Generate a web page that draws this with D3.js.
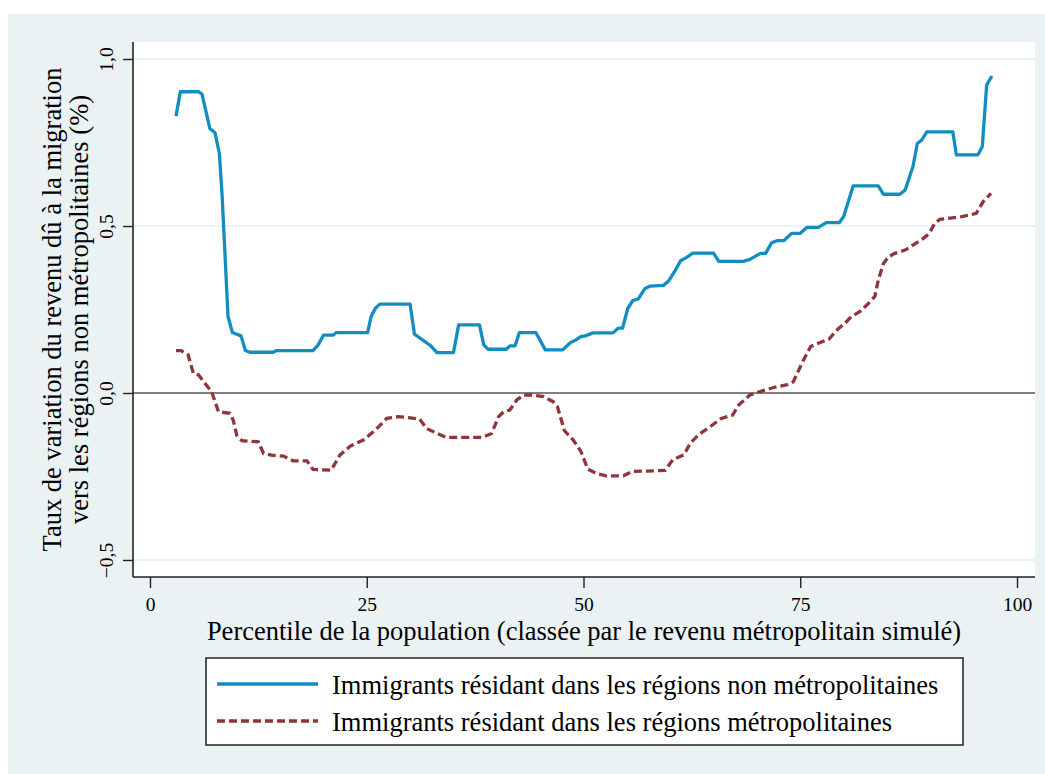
<!DOCTYPE html>
<html>
<head>
<meta charset="utf-8">
<script src="https://cdn.jsdelivr.net/npm/d3@7"></script>
<style>
  body { margin: 0; background: #ffffff; }
  svg text { font-family: "Liberation Serif", "Times New Roman", serif; fill: #000; }
</style>
</head>
<body>
<div id="chart"></div>
<script>
// percentiles and values
var pctNonMetro = [3.0, 3.5, 5.6, 6.0, 6.9, 7.5, 8.0, 8.3, 9.0, 9.5, 10.5, 11.0, 11.5, 14.2, 14.6, 18.8, 19.4, 20.0, 21.1, 21.5,
  25.1, 25.5, 26.0, 26.5, 30.0, 30.5, 32.3, 33.1, 35.0, 35.6, 38.0, 38.5, 39.0, 41.1, 41.5, 42.1, 42.6, 44.5, 45.6, 47.6,
  48.5, 49.0, 49.7, 50.2, 51.1, 53.4, 54.0, 54.5, 55.1, 55.7, 56.3, 57.1, 57.7, 59.2, 59.8, 60.6, 61.2, 61.9, 62.6, 65.0,
  65.6, 68.4, 69.2, 70.4, 71.0, 71.7, 72.3, 73.1, 74.0, 75.0, 75.8, 77.1, 78.0, 79.5, 80.0, 81.1, 84.0, 84.6, 86.5, 87.1,
  88.0, 88.5, 89.0, 89.6, 92.6, 93.0, 95.5, 96.0, 96.5, 97.1];
var valNonMetro = [0.829, 0.902, 0.902, 0.895, 0.792, 0.779, 0.717, 0.60, 0.229, 0.181, 0.171, 0.127, 0.122, 0.122, 0.127, 0.127, 0.144, 0.173, 0.173, 0.181,
  0.181, 0.229, 0.254, 0.266, 0.266, 0.176, 0.143, 0.121, 0.121, 0.204, 0.204, 0.144, 0.131, 0.131, 0.141, 0.141, 0.181, 0.181, 0.129, 0.129,
  0.151, 0.157, 0.169, 0.171, 0.180, 0.180, 0.194, 0.194, 0.253, 0.277, 0.281, 0.313, 0.320, 0.322, 0.335, 0.368, 0.396, 0.406, 0.419, 0.419,
  0.394, 0.394, 0.400, 0.418, 0.418, 0.450, 0.456, 0.456, 0.478, 0.478, 0.496, 0.496, 0.510, 0.510, 0.528, 0.620, 0.620, 0.595, 0.595, 0.608,
  0.678, 0.747, 0.757, 0.782, 0.782, 0.713, 0.713, 0.738, 0.922, 0.949];

var pctMetro = [3.0, 3.6, 4.4, 5.0, 5.6, 6.2, 7.1, 7.9, 9.2, 9.6, 10.0, 10.6, 12.5, 13.1, 14.0, 15.4, 16.5, 18.1, 18.8, 20.9,
  21.9, 23.1, 24.6, 26.0, 27.3, 28.6, 29.6, 31.1, 31.9, 33.1, 34.2, 38.3, 39.4, 40.2, 40.8, 41.5, 42.3, 43.1, 44.0, 45.4,
  46.5, 47.0, 47.8, 48.8, 49.7, 50.5, 51.5, 52.6, 54.6, 55.6, 59.4, 60.3, 61.6, 62.3, 63.3, 64.6, 65.9, 67.2, 67.9, 69.2,
  70.7, 72.3, 73.4, 74.2, 75.4, 76.2, 77.3, 78.3, 79.3, 80.2, 80.9, 81.9, 82.9, 83.6, 84.0, 84.6, 85.2, 85.9, 87.1, 88.0,
  89.2, 89.9, 90.5, 91.1, 93.6, 94.6, 95.3, 96.1, 97.0];
var valMetro = [0.127, 0.127, 0.114, 0.059, 0.054, 0.034, 0.004, -0.056, -0.061, -0.081, -0.126, -0.143, -0.146, -0.181, -0.186, -0.189, -0.203, -0.203, -0.229, -0.231,
  -0.186, -0.159, -0.141, -0.111, -0.076, -0.071, -0.073, -0.078, -0.106, -0.121, -0.133, -0.133, -0.121, -0.071, -0.056, -0.051, -0.021, -0.006, -0.006, -0.011,
  -0.026, -0.041, -0.113, -0.140, -0.175, -0.228, -0.241, -0.248, -0.248, -0.235, -0.232, -0.200, -0.185, -0.151, -0.124, -0.101, -0.076, -0.066, -0.036, -0.006,
  0.007, 0.019, 0.024, 0.034, 0.100, 0.139, 0.151, 0.161, 0.190, 0.210, 0.229, 0.244, 0.269, 0.289, 0.338, 0.388, 0.408, 0.418, 0.428, 0.443,
  0.463, 0.478, 0.508, 0.520, 0.528, 0.533, 0.538, 0.573, 0.598];

var xTicks = [0, 25, 50, 75, 100];
var yTicks = [-0.5, 0, 0.5, 1.0];
var yGrid = [-0.5, 0.5, 1.0];
var seriesNames = ["Immigrants résidant dans les régions non métropolitaines",
  "Immigrants résidant dans les régions métropolitaines"];

// styling
var svgWidth = 1045;
var svgHeight = 774;
var plot = { left: 133, right: 1035, top: 42, bottom: 577 };
var bgColor = "#eaf2f3";
var blue = "#128dc0";
var red = "#90353b";
var serif = "'Liberation Serif', 'Times New Roman', serif";

var svg = d3.select("#chart")
  .append("svg")
  .attr("width", svgWidth)
  .attr("height", svgHeight);

// outer background
svg.append("rect")
  .attr("x", 8).attr("y", 14)
  .attr("width", svgWidth - 8).attr("height", svgHeight - 14)
  .attr("fill", bgColor);

// plot region
svg.append("rect")
  .attr("x", plot.left).attr("y", plot.top)
  .attr("width", plot.right - plot.left).attr("height", plot.bottom - plot.top)
  .attr("fill", "#ffffff");

var xScale = d3.scaleLinear().domain([0, 100]).range([150, 1017]);
var yScale = d3.scaleLinear().domain([0, 1]).range([393, 59]);

// grid lines
svg.selectAll(".grid")
  .data(yGrid)
  .enter()
  .append("line")
  .attr("x1", plot.left).attr("x2", plot.right)
  .attr("y1", d => yScale(d)).attr("y2", d => yScale(d))
  .attr("stroke", bgColor)
  .attr("stroke-width", 2);

// zero line
svg.append("line")
  .attr("x1", plot.left).attr("x2", plot.right)
  .attr("y1", yScale(0)).attr("y2", yScale(0))
  .attr("stroke", "#000")
  .attr("stroke-width", 1.2);

// axes
var fmt = d3.format(".1f");
var yAxis = d3.axisLeft(yScale)
  .tickValues(yTicks)
  .tickSize(10)
  .tickPadding(0)
  .tickFormat(d => fmt(d).replace(".", ","));
var xAxis = d3.axisBottom(xScale)
  .tickValues(xTicks)
  .tickSize(11)
  .tickPadding(9)
  .tickFormat(d3.format("d"));

var yG = svg.append("g")
  .attr("transform", `translate(${plot.left},0)`)
  .call(yAxis);
yG.select(".domain").attr("d", `M0,${plot.top}V${plot.bottom}`);

var xG = svg.append("g")
  .attr("transform", `translate(0,${plot.bottom})`)
  .call(xAxis);
xG.select(".domain").attr("d", `M${plot.left},0H${plot.right}`);

svg.selectAll(".domain").attr("stroke", "#222").attr("stroke-width", 1.6);
svg.selectAll(".tick line").attr("stroke", "#222").attr("stroke-width", 1.4);
yG.attr("font-family", serif).attr("font-size", 19.5);
xG.attr("font-family", serif).attr("font-size", 19.5);

xG.selectAll(".tick text")
  .attr("fill", "#000");

yG.selectAll(".tick text")
  .attr("fill", "#000")
  .attr("text-anchor", "middle")
  .attr("x", 0).attr("y", 0).attr("dy", 0)
  .attr("transform", "translate(-20,0) rotate(-90)");

// axis titles
svg.append("text")
  .attr("x", 584)
  .attr("y", 640)
  .attr("text-anchor", "middle")
  .attr("font-size", 26.5)
  .text("Percentile de la population (classée par le revenu métropolitain simulé)");

var yTitle = svg.append("text")
  .attr("transform", `translate(61,${(plot.top + plot.bottom) / 2}) rotate(-90)`)
  .attr("text-anchor", "middle")
  .attr("font-size", 26.5);
yTitle.append("tspan").attr("x", 0).attr("y", 0)
  .text("Taux de variation du revenu dû à la migration");
yTitle.append("tspan").attr("x", 0).attr("y", 27)
  .text("vers les régions non métropolitaines (%)");

// lines
var lineGen = d3.line()
  .x(d => xScale(d[0]))
  .y(d => yScale(d[1]));

svg.append("path")
  .datum(d3.zip(pctMetro, valMetro))
  .attr("d", lineGen)
  .attr("fill", "none")
  .attr("stroke", red)
  .attr("stroke-width", 3.3)
  .attr("stroke-dasharray", "8,4");

svg.append("path")
  .datum(d3.zip(pctNonMetro, valNonMetro))
  .attr("d", lineGen)
  .attr("fill", "none")
  .attr("stroke", blue)
  .attr("stroke-width", 3.3)
  .attr("stroke-linejoin", "round");

// legend
var legend = svg.append("g");
legend.append("rect")
  .attr("x", 206).attr("y", 658)
  .attr("width", 757).attr("height", 87)
  .attr("fill", "#fff")
  .attr("stroke", "#222")
  .attr("stroke-width", 1.5);

var legendItems = legend.selectAll(".item")
  .data(seriesNames)
  .enter()
  .append("g")
  .attr("transform", (d, i) => `translate(0,${684 + i * 37})`);

legendItems.append("line")
  .attr("x1", 217).attr("x2", 318)
  .attr("y1", 0).attr("y2", 0)
  .attr("stroke", (d, i) => i === 0 ? blue : red)
  .attr("stroke-width", 3.3)
  .attr("stroke-dasharray", (d, i) => i === 0 ? null : "8,4");

legendItems.append("text")
  .attr("x", 332)
  .attr("y", 10)
  .attr("font-size", 26.5)
  .text(d => d);
</script>
</body>
</html>
